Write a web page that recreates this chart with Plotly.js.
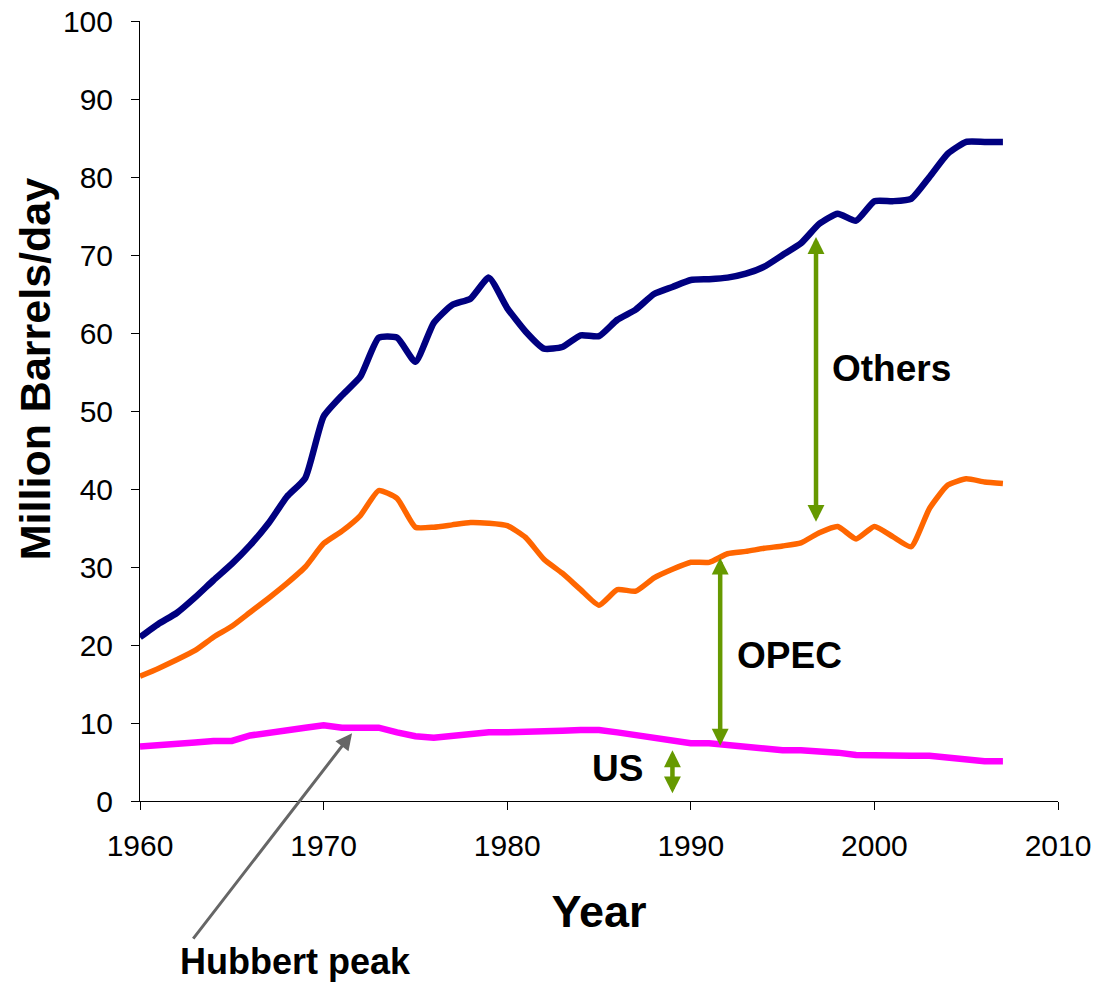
<!DOCTYPE html>
<html>
<head>
<meta charset="utf-8">
<script src="https://cdn.plot.ly/plotly-3.0.1.min.js"></script>
<style>html,body{margin:0;padding:0;background:#fff;}#chart{width:1099px;height:983px;}</style>
</head>
<body>
<div id="chart"></div>
<script>
var years = [1960,1961,1962,1963,1964,1965,1966,1967,1968,1969,
             1970,1971,1972,1973,1974,1975,1976,1977,1978,1979,
             1980,1981,1982,1983,1984,1985,1986,1987,1988,1989,
             1990,1991,1992,1993,1994,1995,1996,1997,1998,1999,
             2000,2001,2002,2003,2004,2005,2006,2007];

// World total (US + OPEC + Others)
var totalWorld = [21.0,22.7,24.1,26.1,28.3,30.4,32.8,35.6,39.0,41.4,
                  49.3,52.0,54.4,59.4,59.4,56.3,61.3,63.6,64.4,67.1,
                  63.2,60.2,58.0,58.2,59.7,59.6,61.7,63.0,65.0,65.9,
                  66.8,66.9,67.1,67.6,68.5,70.0,71.5,74.0,75.3,74.4,
                  76.9,76.9,77.2,80.0,83.0,84.5,84.5,84.5];

// US + OPEC
var usPlusOpec = [16.0,17.0,18.1,19.3,21.0,22.4,24.2,26.0,27.9,30.0,
                  33.0,34.6,36.6,39.8,38.8,35.1,35.1,35.4,35.7,35.6,
                  35.3,33.8,31.0,29.2,27.1,25.1,27.1,26.9,28.6,29.7,
                  30.6,30.6,31.7,32.0,32.4,32.7,33.1,34.4,35.2,33.6,
                  35.2,33.9,32.6,37.5,40.5,41.3,40.9,40.7];

// US
var usOnly = [7.0,7.1,7.4,7.5,7.7,7.7,8.4,8.8,9.1,9.4,
              9.7,9.4,9.4,9.4,8.8,8.3,8.1,8.3,8.7,8.8,
              8.8,8.8,8.8,9.0,9.1,9.1,8.8,8.5,8.2,7.8,
              7.4,7.4,7.2,6.8,6.8,6.5,6.5,6.4,6.2,5.9,
              5.8,5.8,5.8,5.8,5.5,5.2,5.1,5.1];

var xTicks = [1960,1970,1980,1990,2000,2010];
var yTicks = [0,10,20,30,40,50,60,70,80,90,100];

var FONT = 'Arial, "Liberation Sans", sans-serif';
var GREEN = '#669900';

var traces = [
  {x: years, y: totalWorld, mode: 'lines', name: 'World',
   line: {color: '#000080', width: 6.5, shape: 'spline', smoothing: 0.5}, hoverinfo: 'x+y'},
  {x: years, y: usPlusOpec, mode: 'lines', name: 'US + OPEC',
   line: {color: '#FF6600', width: 5.5, shape: 'spline', smoothing: 0.5}, hoverinfo: 'x+y'},
  {x: years, y: usOnly, mode: 'lines', name: 'US',
   line: {color: '#FF00FF', width: 6.5}, hoverinfo: 'x+y'}
];

function dblArrow(x, y0, y1) {
  return {x: x, y: y1, ax: x, ay: y0, xref: 'x', yref: 'y', axref: 'x', ayref: 'y',
          showarrow: true, text: '', arrowside: 'end+start',
          arrowhead: 2, startarrowhead: 2, arrowsize: 0.75, startarrowsize: 0.75,
          arrowwidth: 4.5, arrowcolor: GREEN, standoff: 0, startstandoff: 0};
}

var layout = {
  width: 1099, height: 983,
  margin: {l: 140, r: 41, t: 21, b: 182},
  paper_bgcolor: '#ffffff', plot_bgcolor: '#ffffff',
  showlegend: false,
  font: {family: FONT, color: '#000000'},
  xaxis: {
    range: [1960, 2010], tickvals: xTicks, ticktext: xTicks.map(String),
    ticks: 'outside', ticklen: 8, tickwidth: 1, tickcolor: '#000', ticklabelstandoff: 10,
    showline: true, linecolor: '#000', linewidth: 1, showgrid: false, zeroline: false,
    tickfont: {family: FONT, size: 30, color: '#000'},
    title: {text: '<b>Year</b>', font: {family: FONT, size: 45, color: '#000'}, standoff: 34}
  },
  yaxis: {
    range: [0, 100], tickvals: yTicks, ticktext: yTicks.map(String),
    ticks: 'outside', ticklen: 8, tickwidth: 1, tickcolor: '#000', ticklabelstandoff: 12,
    showline: true, linecolor: '#000', linewidth: 1, showgrid: false, zeroline: false,
    tickfont: {family: FONT, size: 30, color: '#000'}
  },
  annotations: [
    {x: -0.114, y: 0.554, xref: 'paper', yref: 'paper', showarrow: false, textangle: -90,
     text: '<b>Million Barrels/day</b>', font: {family: FONT, size: 43, color: '#000'},
     xanchor: 'center', yanchor: 'middle'},
    dblArrow(1996.82, 35.6, 72.3),
    dblArrow(1991.6, 6.9, 31.2),
    dblArrow(1989.0, 0.8, 6.5),
    {x: 2000.93, y: 55.4, xref: 'x', yref: 'y', showarrow: false, text: '<b>Others</b>',
     font: {family: FONT, size: 37, color: '#000'}, xanchor: 'center', yanchor: 'middle'},
    {x: 1995.35, y: 18.6, xref: 'x', yref: 'y', showarrow: false, text: '<b>OPEC</b>',
     font: {family: FONT, size: 37, color: '#000'}, xanchor: 'center', yanchor: 'middle'},
    {x: 1986.03, y: 4.2, xref: 'x', yref: 'y', showarrow: false, text: '<b>US</b>',
     font: {family: FONT, size: 37, color: '#000'}, xanchor: 'center', yanchor: 'middle'},
    {x: 1971.55, y: 8.7, xref: 'x', yref: 'y', axref: 'pixel', ayref: 'pixel',
     ax: -160, ay: 207, showarrow: true, text: '',
     arrowhead: 2, arrowsize: 1.1, arrowwidth: 3, arrowcolor: '#666666', standoff: 0},
    {x: 0.169, y: -0.206, xref: 'paper', yref: 'paper', showarrow: false, text: '<b>Hubbert peak</b>',
     font: {family: FONT, size: 36, color: '#000'}, xanchor: 'center', yanchor: 'middle'}
  ]
};

Plotly.newPlot('chart', traces, layout, {displayModeBar: false, staticPlot: true});
</script>
</body>
</html>
